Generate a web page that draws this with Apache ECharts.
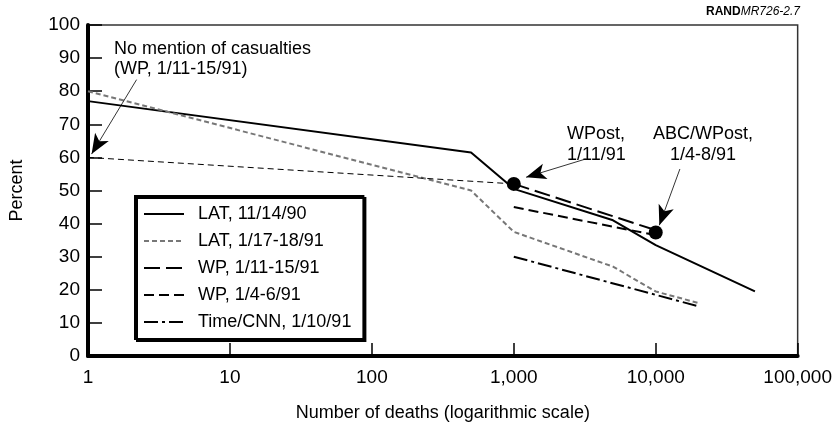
<!DOCTYPE html>
<html>
<head>
<meta charset="utf-8">
<script src="https://cdn.jsdelivr.net/npm/echarts@6/dist/echarts.min.js"></script>
<style>
  html, body { margin: 0; padding: 0; background: #fff; }
  #chart { width: 835px; height: 428px; }
</style>
</head>
<body>
<div id="chart"></div>
<script>
// data: [deaths, percent]
var latNov90 = [[1, 77], [500, 61.5], [1000, 50.5], [5000, 41], [10000, 33.5], [50000, 19.5]];
var latJan91 = [[1, 80], [500, 50], [1000, 37.5], [5000, 27], [10000, 19.5], [20000, 16]];
var wpJan11 = [[1000, 52], [10000, 38]];
var noMention = [[1, 60], [1000, 52]];
var wpJan4 = [[1000, 45], [10000, 36.5]];
var timeCnn = [[1000, 30], [20000, 15]];
var pollDots = [[1000, 52], [10000, 37.3]];

var xTicks = [1, 10, 100, 1000, 10000, 100000];
var seriesNames = ['LAT, 11/14/90', 'LAT, 1/17-18/91', 'WP, 1/11-15/91', 'WP, 1/4-6/91', 'Time/CNN, 1/10/91'];

var FONT = 'Liberation Sans';

var chart = echarts.init(document.getElementById('chart'));

function fmt(v) {
  return Number(v).toLocaleString('en-US');
}

var option = {
  animation: false,
  textStyle: { fontFamily: FONT, color: '#000' },
  grid: {
    left: 86, right: 36, top: 25, bottom: 72,
    show: true, borderColor: '#333', borderWidth: 1.5
  },
  xAxis: {
    type: 'log',
    logBase: 10,
    min: xTicks[0],
    max: xTicks[xTicks.length - 1],
    name: 'Number of deaths (logarithmic scale)',
    nameLocation: 'middle',
    nameGap: 48,
    nameTextStyle: { fontSize: 18, fontFamily: FONT, color: '#000' },
    axisLine: { lineStyle: { color: '#000', width: 4 } },
    axisTick: { inside: true, length: 13, lineStyle: { color: '#000', width: 1.5 } },
    minorTick: { show: false },
    splitLine: { show: false },
    axisLabel: { fontSize: 19, color: '#000', margin: 12, formatter: fmt }
  },
  yAxis: {
    type: 'value',
    min: 0, max: 100, interval: 10,
    name: 'Percent',
    nameLocation: 'middle',
    nameGap: 62,
    nameTextStyle: { fontSize: 18, fontFamily: FONT, color: '#000' },
    axisLine: { show: true, lineStyle: { color: '#000', width: 4 } },
    axisTick: { show: true, inside: true, length: 14, lineStyle: { color: '#000', width: 1.5 } },
    splitLine: { show: false },
    axisLabel: { fontSize: 19, color: '#000', margin: 8 }
  },
  legend: {
    data: seriesNames,
    orient: 'vertical',
    left: 135, top: 196,
    padding: [9, 12, 8, 8],
    itemWidth: 40, itemHeight: 14, itemGap: 9,
    backgroundColor: '#fff',
    borderColor: '#000', borderWidth: 2,
    shadowColor: '#000', shadowOffsetX: 2, shadowOffsetY: 2, shadowBlur: 0,
    itemStyle: { opacity: 0 },
    textStyle: { fontSize: 18, color: '#000', fontFamily: FONT, padding: [0, 0, 0, 9] }
  },
  series: [
    {
      name: seriesNames[0], type: 'line', data: latNov90, symbol: 'none',
      lineStyle: { color: '#000', width: 2, type: 'solid' }, itemStyle: { color: '#000' }
    },
    {
      name: seriesNames[1], type: 'line', data: latJan91, symbol: 'none',
      lineStyle: { color: '#777', width: 2, type: [5, 3] }, itemStyle: { color: '#777' }
    },
    {
      name: seriesNames[2], type: 'line', data: wpJan11, symbol: 'none',
      lineStyle: { color: '#000', width: 2, type: [16, 6] }, itemStyle: { color: '#000' }
    },
    {
      name: seriesNames[3], type: 'line', data: wpJan4, symbol: 'none',
      lineStyle: { color: '#000', width: 2, type: [10, 5] }, itemStyle: { color: '#000' }
    },
    {
      name: seriesNames[4], type: 'line', data: timeCnn, symbol: 'none',
      lineStyle: { color: '#000', width: 2, type: [14, 4, 3, 4] }, itemStyle: { color: '#000' }
    },
    {
      // thin connector, WP no-mention point
      name: 'noMention', type: 'line', data: noMention, symbol: 'none',
      lineStyle: { color: '#000', width: 1, type: [6, 4] },
      markLine: {
        silent: true, symbol: ['none', 'arrow'], symbolSize: [12, 20],
        lineStyle: { color: '#000', width: 0.8, type: 'solid' },
        label: { show: false },
        data: [
          [{ coord: [2.2, 83.5] }, { coord: [1.06, 61] }],
          [{ coord: [3200, 59.5] }, { coord: [1220, 54] }],
          [{ coord: [14800, 56.5] }, { coord: [10600, 39.5] }]
        ]
      }
    },
    {
      name: 'dots', type: 'scatter', data: pollDots, symbol: 'circle', symbolSize: 14,
      itemStyle: { color: '#000', opacity: 1 }, z: 5
    }
  ],
  graphic: [
    {
      type: 'text', left: 114, top: 39,
      style: { text: 'No mention of casualties\n(WP, 1/11-15/91)', font: '18px ' + FONT, fill: '#000', lineHeight: 20 }
    },
    {
      type: 'text', left: 567, top: 124,
      style: { text: 'WPost,\n1/11/91', font: '18px ' + FONT, fill: '#000', lineHeight: 21, align: 'left' }
    },
    {
      type: 'text', x: 703, y: 124,
      style: { text: 'ABC/WPost,\n1/4-8/91', font: '18px ' + FONT, fill: '#000', lineHeight: 21, align: 'center' }
    },
    {
      type: 'text', right: 35, top: 6,
      style: {
        text: '{b|RAND}{i|MR726-2.7}',
        rich: {
          b: { fontFamily: FONT, fontWeight: 'bold', fontSize: 12, fill: '#000' },
          i: { fontFamily: FONT, fontStyle: 'italic', fontSize: 12, fill: '#000' }
        }
      }
    }
  ]
};

chart.setOption(option);
</script>
</body>
</html>
